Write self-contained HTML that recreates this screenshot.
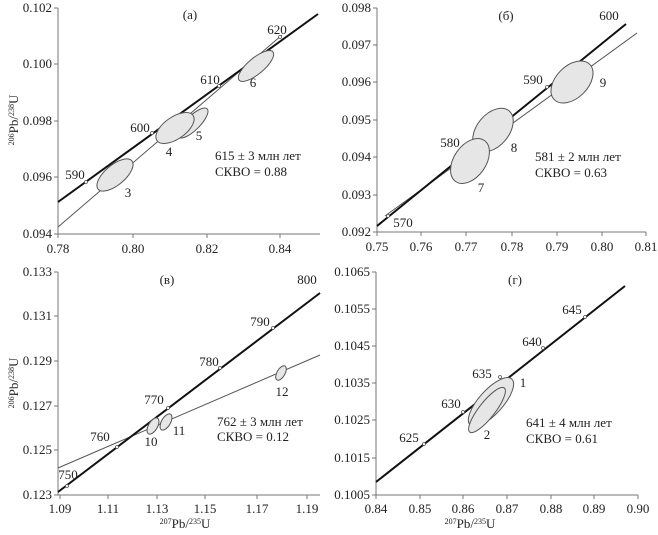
<!DOCTYPE html>
<html><head><meta charset="utf-8"><style>
html,body{margin:0;padding:0;background:#fff}
svg{display:block;font-family:"Liberation Serif","DejaVu Serif",serif}
text{font-family:"Liberation Serif","DejaVu Serif",serif;font-size:13px;fill:#222}
.ax{stroke:#777;stroke-width:1;fill:none}
.c{stroke:#111;stroke-width:2;fill:none}
.d{stroke:#555;stroke-width:1;fill:none}
.e{fill:#e6e6e6;stroke:#555;stroke-width:1}
.tk{fill:#fff;stroke:#555;stroke-width:0.8}
</style></head><body>
<svg width="658" height="535" viewBox="0 0 658 535" font-family="Liberation Serif, serif">
<!-- Panel a -->
<path class="ax" d="M58 8V234H320 M54 8H58 M54 64H58 M54 121H58 M54 177H58 M54 234H58 M58 234V238 M133 234V238 M207 234V238 M280 234V238"/>
<g text-anchor="end"><text x="52" y="12">0.102</text><text x="52" y="68">0.100</text><text x="52" y="125">0.098</text><text x="52" y="181">0.096</text><text x="52" y="238">0.094</text></g>
<g text-anchor="middle"><text x="58" y="253">0.78</text><text x="133" y="253">0.80</text><text x="207" y="253">0.82</text><text x="280" y="253">0.84</text></g>
<text transform="translate(18,120) rotate(-90)" text-anchor="middle"><tspan font-size="8" dy="-4">206</tspan><tspan dy="4">Pb/</tspan><tspan font-size="8" dy="-4">238</tspan><tspan dy="4">U</tspan></text>
<line class="d" x1="58" y1="227" x2="282" y2="35"/>
<line class="c" x1="58" y1="202" x2="318" y2="14"/>
<ellipse class="e" cx="115" cy="175" rx="22" ry="10" transform="rotate(-40 115 175)"/>
<ellipse class="e" cx="193" cy="123" rx="20" ry="7" transform="rotate(-45 193 123)"/>
<ellipse class="e" cx="175" cy="128" rx="22" ry="11" transform="rotate(-35 175 128)"/>
<ellipse class="e" cx="256" cy="66" rx="22" ry="8" transform="rotate(-40 256 66)"/>
<circle class="tk" cx="86" cy="182" r="1.5"/><circle class="tk" cx="152" cy="133" r="1.5"/><circle class="tk" cx="219" cy="86" r="1.5"/><circle class="tk" cx="280" cy="37" r="1.5"/>
<g text-anchor="middle"><text x="75" y="179">590</text><text x="140" y="132">600</text><text x="210" y="84">610</text><text x="277" y="34">620</text><text x="190" y="19">(а)</text>
<text x="128" y="197">3</text><text x="169" y="156">4</text><text x="199" y="140">5</text><text x="253" y="87">6</text></g>
<text x="215" y="160">615 ± 3 млн лет</text><text x="215" y="176">СКВО = 0.88</text>

<!-- Panel b -->
<path class="ax" d="M377 8V232H646 M373 8H377 M373 45H377 M373 82H377 M373 120H377 M373 157H377 M373 195H377 M373 232H377 M377 232V236 M421 232V236 M466 232V236 M512 232V236 M557 232V236 M602 232V236 M646 232V236"/>
<g text-anchor="end"><text x="371" y="12">0.098</text><text x="371" y="49">0.097</text><text x="371" y="86">0.096</text><text x="371" y="124">0.095</text><text x="371" y="161">0.094</text><text x="371" y="199">0.093</text><text x="371" y="236">0.092</text></g>
<g text-anchor="middle"><text x="377" y="251">0.75</text><text x="421" y="251">0.76</text><text x="466" y="251">0.77</text><text x="512" y="251">0.78</text><text x="557" y="251">0.79</text><text x="602" y="251">0.80</text><text x="646" y="251">0.81</text></g>
<line class="d" x1="385" y1="216" x2="637" y2="33"/>
<line class="c" x1="377" y1="226" x2="626" y2="24"/>
<ellipse class="e" cx="493" cy="130" rx="25" ry="16" transform="rotate(-50 493 130)"/>
<ellipse class="e" cx="470" cy="161" rx="25" ry="16" transform="rotate(-55 470 161)"/>
<ellipse class="e" cx="572" cy="82" rx="25" ry="16" transform="rotate(-45 572 82)"/>
<circle class="tk" cx="388" cy="216" r="1.5"/><circle class="tk" cx="547" cy="87" r="1.5"/>
<g text-anchor="middle"><text x="403" y="227">570</text><text x="450" y="147">580</text><text x="533" y="84">590</text><text x="609" y="20">600</text><text x="506" y="20">(б)</text>
<text x="481" y="192">7</text><text x="514" y="152">8</text><text x="603" y="87">9</text></g>
<text x="535" y="161">581 ± 2 млн лет</text><text x="535" y="177">СКВО = 0.63</text>

<!-- Panel c -->
<path class="ax" d="M58 272V495H320 M54 272H58 M54 316H58 M54 361H58 M54 406H58 M54 450H58 M54 495H58 M60 495V499 M108 495V499 M157 495V499 M205 495V499 M257 495V499 M307 495V499"/>
<g text-anchor="end"><text x="52" y="276">0.133</text><text x="52" y="320">0.131</text><text x="52" y="365">0.129</text><text x="52" y="410">0.127</text><text x="52" y="454">0.125</text><text x="52" y="499">0.123</text></g>
<g text-anchor="middle"><text x="60" y="513">1.09</text><text x="108" y="513">1.11</text><text x="157" y="513">1.13</text><text x="205" y="513">1.15</text><text x="257" y="513">1.17</text><text x="307" y="513">1.19</text></g>
<text transform="translate(18,383) rotate(-90)" text-anchor="middle"><tspan font-size="8" dy="-4">206</tspan><tspan dy="4">Pb/</tspan><tspan font-size="8" dy="-4">238</tspan><tspan dy="4">U</tspan></text>
<text x="185" y="528" text-anchor="middle"><tspan font-size="8" dy="-4">207</tspan><tspan dy="4">Pb/</tspan><tspan font-size="8" dy="-4">235</tspan><tspan dy="4">U</tspan></text>
<line class="d" x1="58" y1="468" x2="320" y2="355"/>
<line class="c" x1="58" y1="492" x2="320" y2="293"/>
<ellipse class="e" cx="153" cy="426" rx="9" ry="4.5" transform="rotate(-60 153 426)"/>
<ellipse class="e" cx="166" cy="422" rx="9" ry="4.5" transform="rotate(-60 166 422)"/>
<ellipse class="e" cx="281" cy="373" rx="8" ry="4" transform="rotate(-60 281 373)"/>
<circle class="tk" cx="67" cy="486" r="1.5"/><circle class="tk" cx="117" cy="447" r="1.5"/><circle class="tk" cx="168" cy="408" r="1.5"/><circle class="tk" cx="220" cy="368" r="1.5"/><circle class="tk" cx="273" cy="328" r="1.5"/>
<g text-anchor="middle"><text x="68" y="479">750</text><text x="100" y="441">760</text><text x="154" y="404">770</text><text x="209" y="366">780</text><text x="260" y="326">790</text><text x="307" y="284">800</text><text x="167" y="284">(в)</text>
<text x="151" y="446">10</text><text x="179" y="435">11</text><text x="282" y="396">12</text></g>
<text x="217" y="426">762 ± 3 млн лет</text><text x="217" y="441">СКВО = 0.12</text>

<!-- Panel d -->
<path class="ax" d="M376 272V495H638 M372 272H376 M372 309H376 M372 346H376 M372 383H376 M372 420H376 M372 458H376 M372 495H376 M376 495V499 M420 495V499 M463 495V499 M507 495V499 M551 495V499 M594 495V499 M638 495V499"/>
<g text-anchor="end"><text x="370" y="276">0.1065</text><text x="370" y="313">0.1055</text><text x="370" y="350">0.1045</text><text x="370" y="387">0.1035</text><text x="370" y="424">0.1025</text><text x="370" y="462">0.1015</text><text x="370" y="499">0.1005</text></g>
<g text-anchor="middle"><text x="376" y="513">0.84</text><text x="420" y="513">0.85</text><text x="463" y="513">0.86</text><text x="507" y="513">0.87</text><text x="551" y="513">0.88</text><text x="594" y="513">0.89</text><text x="638" y="513">0.90</text></g>
<text x="470" y="528" text-anchor="middle"><tspan font-size="8" dy="-4">207</tspan><tspan dy="4">Pb/</tspan><tspan font-size="8" dy="-4">235</tspan><tspan dy="4">U</tspan></text>
<line class="c" x1="376" y1="482" x2="625" y2="286"/>
<ellipse class="e" cx="491" cy="402" rx="31" ry="12" transform="rotate(-48 491 402)"/>
<ellipse class="e" cx="487" cy="410" rx="28" ry="8" transform="rotate(-52 487 410)"/>
<circle class="tk" cx="424" cy="444" r="1.5"/><circle class="tk" cx="463" cy="412" r="1.5"/><circle class="tk" cx="500" cy="377" r="1.5"/><circle class="tk" cx="543" cy="348" r="1.5"/><circle class="tk" cx="585" cy="317" r="1.5"/>
<g text-anchor="middle"><text x="409" y="442">625</text><text x="451" y="408">630</text><text x="482" y="378">635</text><text x="532" y="346">640</text><text x="572" y="314">645</text><text x="515" y="284">(г)</text>
<text x="523" y="387">1</text><text x="487" y="439">2</text></g>
<text x="526" y="427">641 ± 4 млн лет</text><text x="526" y="443">СКВО = 0.61</text>
</svg>
</body></html>
